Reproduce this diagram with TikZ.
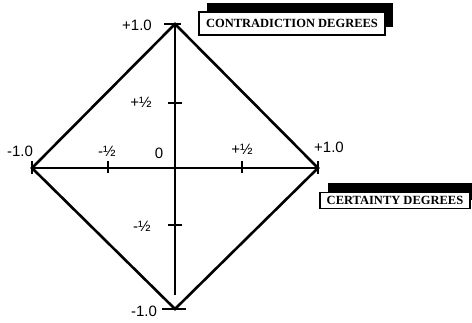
\documentclass[tikz,border=0pt]{standalone}
\usepackage{fontspec}
\setmainfont{Liberation Serif}
\newfontfamily\numfont{Liberation Sans}
\begin{document}
\begin{tikzpicture}[x=1pt,y=-1pt,
  edge/.style={line width=2.6pt,line cap=round},
  axis/.style={line width=1.6pt},
  tick/.style={line width=1.6pt},
  num/.style={font=\numfont\fontsize{15}{15}\selectfont,inner sep=0pt},
  lbl/.style={draw,line width=1.2pt,fill=white,inner sep=1pt,font=\bfseries\fontsize{12.5}{12.5}\selectfont},
  shadow/.style={fill=black}]
\useasboundingbox (0,0) rectangle (472,322);
\coordinate (T) at (175,24);
\coordinate (B) at (175,309);
\coordinate (L) at (32,168);
\coordinate (R) at (318,168);
\coordinate (Bv) at (175,295);
% axes
\draw[axis] (L) -- (R);
\draw[axis] (T) -- (Bv);
% diamond
\draw[edge] (T) -- (R) -- (B) -- (L) -- cycle;
% ticks
\coordinate (tt1) at (164,24); \coordinate (tt2) at (181,24);
\draw[tick] (tt1) -- (tt2);
\coordinate (bt1) at (162,309); \coordinate (bt2) at (186,309);
\draw[tick] (bt1) -- (bt2);
\coordinate (hp1) at (168,103); \coordinate (hp2) at (182,103);
\draw[tick] (hp1) -- (hp2);
\coordinate (hm1) at (168,225); \coordinate (hm2) at (182,225);
\draw[tick] (hm1) -- (hm2);
\coordinate (xm1) at (108,161); \coordinate (xm2) at (108,173);
\draw[tick] (xm1) -- (xm2);
\coordinate (xp1) at (242,161); \coordinate (xp2) at (242,173);
\draw[tick] (xp1) -- (xp2);
\coordinate (lt1) at (32,161); \coordinate (lt2) at (32,174);
\draw[tick] (lt1) -- (lt2);
\coordinate (rt1) at (318,161); \coordinate (rt2) at (318,174);
\draw[tick] (rt1) -- (rt2);
% numbers
\node[num] (n1) at (137,25) {+1.0};
\node[num] (n2) at (141,102) {+½};
\node[num] (n3) at (20,151) {-1.0};
\node[num] (n4) at (107,151) {-½};
\node[num] (n5) at (159,153) {0};
\node[num] (n6) at (242,149) {+½};
\node[num] (n7) at (329,147) {+1.0};
\node[num] (n8) at (142,226) {-½};
\node[num] (n9) at (144,311) {-1.0};
% labels with shadow
\fill[shadow] (207,3) rectangle (393,27);
\node[lbl,minimum width=186pt,minimum height=23pt] (cd) at (292,23.5) {CONTRADICTION DEGREES};
\fill[shadow] (328,183) rectangle (472,200);
\node[lbl,minimum width=150pt,minimum height=16pt] (ce) at (395,200.5) {CERTAINTY DEGREES};
\end{tikzpicture}
\end{document}
